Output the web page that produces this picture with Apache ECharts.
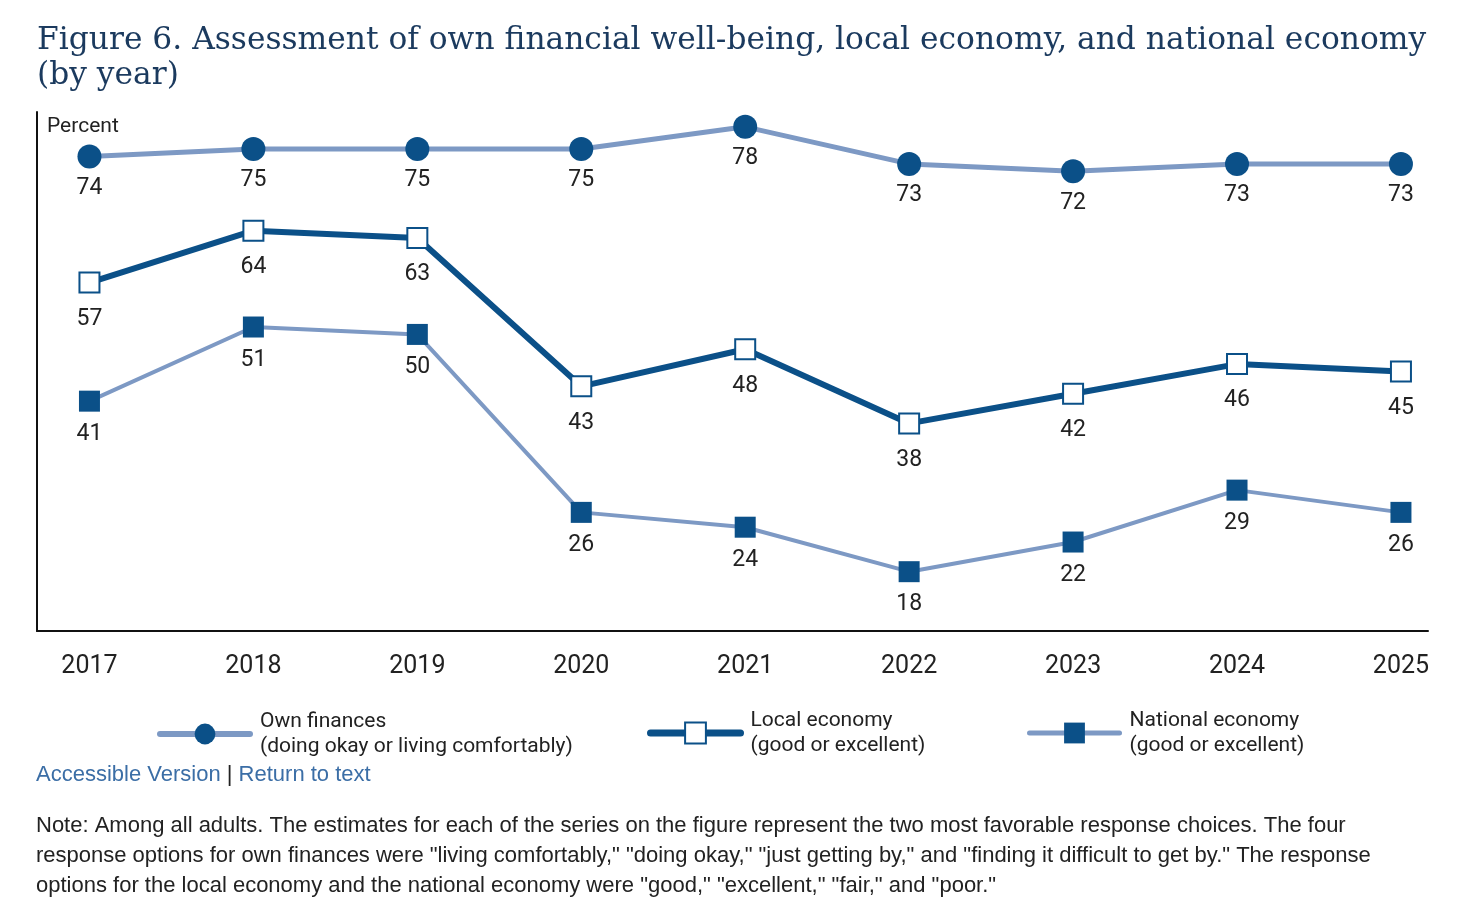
<!DOCTYPE html>
<html>
<head>
<meta charset="utf-8">
<script src="https://cdn.jsdelivr.net/npm/echarts@6/dist/echarts.min.js"></script>
<style>
  html, body { margin: 0; padding: 0; background: #fff; }
  #container { width: 1468px; height: 908px; }
</style>
</head>
<body>
<div id="container"></div>
<script>
var years = [2017, 2018, 2019, 2020, 2021, 2022, 2023, 2024, 2025];
var ownFinances = [74, 75, 75, 75, 78, 73, 72, 73, 73];
var localEconomy = [57, 64, 63, 43, 48, 38, 42, 46, 45];
var nationalEconomy = [41, 51, 50, 26, 24, 18, 22, 29, 26];

var navy = '#0b5088';
var lightBlue = '#7d99c4';
var labelFont = '"Liberation Sans Narrow", "Roboto", sans-serif';
var noteFont = '"Liberation Sans", Arial, sans-serif';

function pairs(values) {
  return years.map(function (y, i) { return [y, values[i]]; });
}

var myChart = echarts.init(document.getElementById('container'));

var labelStyle = {
  show: true,
  position: 'bottom',
  fontSize: 23,
  color: '#222',
  fontFamily: labelFont
};

var legendText = { fontSize: 21, lineHeight: 25, color: '#222', fontFamily: labelFont, padding: [0, 0, 0, 5] };

var option = {
  backgroundColor: '#fff',
  animation: false,
  title: [
    {
      text: 'Figure 6. Assessment of own financial well-being, local economy, and national economy\n(by year)',
      left: 37,
      top: 23,
      padding: 0,
      textStyle: {
        color: '#1b3a5e',
        fontFamily: '"DejaVu Serif", serif',
        fontWeight: 'normal',
        fontSize: 31.3,
        lineHeight: 35
      }
    },
    {
      text: 'Percent',
      left: 47,
      top: 116,
      padding: 0,
      textStyle: { color: '#222', fontFamily: labelFont, fontWeight: 'normal', fontSize: 21 }
    },
    {
      text: '{a|Accessible Version} | {a|Return to text}',
      left: 36,
      top: 763,
      padding: 0,
      textStyle: {
        color: '#222',
        fontFamily: noteFont,
        fontWeight: 'normal',
        fontSize: 22,
        lineHeight: 24,
        rich: {
          a: { color: '#3b6ea6', fontSize: 22, lineHeight: 24, fontFamily: noteFont }
        }
      }
    },
    {
      text: 'Note: Among all adults. The estimates for each of the series on the figure represent the two most favorable response choices. The four\n' +
        'response options for own finances were "living comfortably," "doing okay," "just getting by," and "finding it difficult to get by." The response\n' +
        'options for the local economy and the national economy were "good," "excellent," "fair," and "poor."',
      left: 36,
      top: 811,
      padding: 0,
      textStyle: {
        color: '#222',
        fontFamily: noteFont,
        fontWeight: 'normal',
        fontSize: 22,
        lineHeight: 30
      }
    }
  ],
  legend: [
    {
      data: ['Own finances\n(doing okay or living comfortably)'],
      left: 157, top: 709, padding: 0,
      itemWidth: 90, itemHeight: 26, itemGap: 0,
      lineStyle: { width: 6, cap: 'round' },
      textStyle: legendText
    },
    {
      data: ['Local economy\n(good or excellent)'],
      left: 647, top: 708, padding: 0,
      itemWidth: 90, itemHeight: 26, itemGap: 0,
      lineStyle: { width: 7, cap: 'round' },
      textStyle: legendText
    },
    {
      data: ['National economy\n(good or excellent)'],
      left: 1027, top: 708, padding: 0,
      itemWidth: 90, itemHeight: 26, itemGap: 0,
      lineStyle: { width: 5, cap: 'round' },
      textStyle: legendText
    }
  ],
  grid: {
    left: 37,
    right: 40,
    top: 112,
    bottom: 277
  },
  xAxis: {
    type: 'value',
    min: 2016.68,
    max: 2025.165,
    splitLine: { show: false },
    axisTick: { show: false },
    axisLine: { show: true, lineStyle: { color: '#111', width: 2 } },
    axisLabel: {
      customValues: years,
      margin: 23,
      fontSize: 25,
      color: '#222',
      fontFamily: labelFont,
      formatter: function (v) { return String(v); }
    }
  },
  yAxis: {
    type: 'value',
    min: 10,
    max: 80,
    splitLine: { show: false },
    axisTick: { show: false },
    axisLabel: { show: false },
    axisLine: { show: true, lineStyle: { color: '#111', width: 2 } }
  },
  series: [
    {
      name: 'Own finances\n(doing okay or living comfortably)',
      type: 'line',
      data: pairs(ownFinances),
      symbol: 'circle',
      symbolSize: 24,
      z: 3,
      lineStyle: { color: lightBlue, width: 5 },
      itemStyle: { color: navy },
      label: Object.assign({}, labelStyle, { distance: 8 })
    },
    {
      name: 'Local economy\n(good or excellent)',
      type: 'line',
      data: pairs(localEconomy),
      symbol: 'rect',
      symbolSize: 20,
      z: 4,
      lineStyle: { color: navy, width: 6 },
      itemStyle: { color: '#fff', borderColor: navy, borderWidth: 2 },
      label: Object.assign({}, labelStyle, { distance: 14 })
    },
    {
      name: 'National economy\n(good or excellent)',
      type: 'line',
      data: pairs(nationalEconomy),
      symbol: 'rect',
      symbolSize: 21,
      z: 2,
      lineStyle: { color: lightBlue, width: 4 },
      itemStyle: { color: navy },
      label: Object.assign({}, labelStyle, { distance: 11 })
    }
  ]
};

myChart.setOption(option);
</script>
</body>
</html>
